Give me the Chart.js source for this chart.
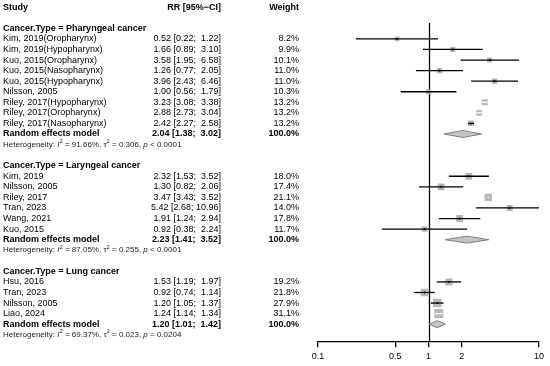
<!DOCTYPE html>
<html><head><meta charset="utf-8">
<script src="https://cdn.jsdelivr.net/npm/chart.js@4"></script>
<style>html,body{margin:0;padding:0;background:#fff}#wrap{width:550px;height:366px;position:relative}</style>
</head><body><div id="wrap"><canvas id="c" width="550" height="366"></canvas></div>
<script>
// ---------------- data ----------------
const groupNames = ["Pharyngeal cancer", "Laryngeal cancer", "Lung cancer"];
const studyLabels = [
  "Kim, 2019(Oropharynx)", "Kim, 2019(Hypopharynx)", "Kuo, 2015(Oropharynx)", "Kuo, 2015(Nasopharynx)",
  "Kuo, 2015(Hypopharynx)", "Nilsson, 2005", "Riley, 2017(Hypopharynx)", "Riley, 2017(Oropharynx)",
  "Riley, 2017(Nasopharynx)",
  "Kim, 2019", "Nilsson, 2005", "Riley, 2017", "Tran, 2023", "Wang, 2021", "Kuo, 2015",
  "Hsu, 2016", "Tran, 2023", "Nilsson, 2005", "Liao, 2024"
];
const studyGroup = [0,0,0,0,0,0,0,0,0, 1,1,1,1,1,1, 2,2,2,2];
const rr     = [0.52, 1.66, 3.58, 1.26, 3.96, 1.00, 3.23, 2.88, 2.42, 2.32, 1.30, 3.47, 5.42, 1.91, 0.92, 1.53, 0.92, 1.20, 1.24];
const ciLow  = [0.22, 0.89, 1.95, 0.77, 2.43, 0.56, 3.08, 2.73, 2.27, 1.53, 0.82, 3.43, 2.68, 1.24, 0.38, 1.19, 0.74, 1.05, 1.14];
const ciHigh = [1.22, 3.10, 6.58, 2.05, 6.46, 1.79, 3.38, 3.04, 2.58, 3.52, 2.06, 3.52, 10.96, 2.94, 2.24, 1.97, 1.14, 1.37, 1.34];
const weights = [8.2, 9.9, 10.1, 11.0, 11.0, 10.3, 13.2, 13.2, 13.2, 18.0, 17.4, 21.1, 14.0, 17.8, 11.7, 19.2, 21.8, 27.9, 31.1];
const pooledRR   = [2.04, 2.23, 1.20];
const pooledLow  = [1.38, 1.41, 1.01];
const pooledHigh = [3.02, 3.52, 1.42];
const hetI2   = ["91.66%", "87.05%", "69.37%"];
const hetTau2 = ["0.306", "0.255", "0.023"];
const hetP    = ["< 0.0001", "< 0.0001", "= 0.0204"];
const xTicks  = [0.1, 0.5, 1, 2, 10];

// ---------------- row layout ----------------
const headerRow = [], pooledRow = [], hetRow = [], studyRow = [];
(function(){
  let row = 2;
  for (let g = 0; g < groupNames.length; g++) {
    headerRow[g] = row++;
    for (let i = 0; i < studyLabels.length; i++) if (studyGroup[i] === g) studyRow[i] = row++;
    pooledRow[g] = row++;
    hetRow[g] = row++;
    row++;
  }
})();

const FONT = '"Liberation Sans", Arial, sans-serif';
const XMIN = 0.1, XMAX = 10;
const maxW = Math.max(...weights);
const sqSide = weights.map(w => 9 * Math.sqrt(w / maxW));
const f2 = v => v.toFixed(2);
const pad = (s, n) => s.length < n ? ' '.repeat(n - s.length) + s : s;
const ciText = (e, l, h) => f2(e) + ' [' + f2(l) + '; ' + pad(f2(h), 5) + ']';

const forestPlugin = {
  id: 'forest',
  beforeDatasetsDraw(chart) {
    const {ctx, scales: {x, y}, chartArea} = chart;
    ctx.save();
    ctx.strokeStyle = '#000'; ctx.lineWidth = 1.3;
    const px = Math.round(x.getPixelForValue(1)) + 0.5;
    ctx.beginPath(); ctx.moveTo(px, y.getPixelForValue(1.5)); ctx.lineTo(px, chartArea.bottom); ctx.stroke();
    ctx.restore();
  },
  afterDatasetsDraw(chart) {
    const {ctx, scales: {x, y}} = chart;
    ctx.save();
    // CI lines
    for (let i = 0; i < rr.length; i++) {
      const x1 = x.getPixelForValue(Math.max(ciLow[i], XMIN));
      const x2 = x.getPixelForValue(Math.min(ciHigh[i], XMAX));
      const py = y.getPixelForValue(studyRow[i]);
      const inside = (x2 - x1) < sqSide[i];
      ctx.strokeStyle = inside ? '#fff' : '#000';
      ctx.lineWidth = 1.3;
      ctx.beginPath(); ctx.moveTo(x1, py); ctx.lineTo(x2, py); ctx.stroke();
      if (!inside) {
        ctx.beginPath(); ctx.moveTo(x.getPixelForValue(rr[i]), py - 1); ctx.lineTo(x.getPixelForValue(rr[i]), py + 1); ctx.stroke();
      }
    }
    // diamonds
    for (let g = 0; g < pooledRR.length; g++) {
      const py = y.getPixelForValue(pooledRow[g]);
      const h = 3.5;
      ctx.beginPath();
      ctx.moveTo(x.getPixelForValue(pooledLow[g]), py);
      ctx.lineTo(x.getPixelForValue(pooledRR[g]), py - h);
      ctx.lineTo(x.getPixelForValue(pooledHigh[g]), py);
      ctx.lineTo(x.getPixelForValue(pooledRR[g]), py + h);
      ctx.closePath();
      ctx.fillStyle = '#C4C4C4'; ctx.fill();
      ctx.strokeStyle = '#808080'; ctx.lineWidth = 1; ctx.stroke();
    }
    ctx.restore();
  },
  afterDraw(chart) {
    const {ctx, scales: {y}} = chart;
    const reg = '9px ' + FONT, bold = 'bold 9px ' + FONT;
    const xStudy = 3, xCI = 221, xW = 299;
    ctx.save();
    ctx.textBaseline = 'middle';
    ctx.fillStyle = '#000';
    const put = (t, px, row, align, font) => { ctx.font = font; ctx.textAlign = align; ctx.fillText(t, px, y.getPixelForValue(row)); };
    put('Study', xStudy, 0, 'left', bold);
    put('RR [95%\u2212CI]', xCI, 0, 'right', bold);
    put('Weight', xW, 0, 'right', bold);
    for (let g = 0; g < groupNames.length; g++) {
      put('Cancer.Type = ' + groupNames[g], xStudy, headerRow[g], 'left', bold);
      put('Random effects model', xStudy, pooledRow[g], 'left', bold);
      put(ciText(pooledRR[g], pooledLow[g], pooledHigh[g]), xCI, pooledRow[g], 'right', bold);
      put('100.0%', xW, pooledRow[g], 'right', bold);
      // heterogeneity line
      const py = y.getPixelForValue(hetRow[g]);
      const fs = 8, ss = 5.8;
      const parts = [
        ['Heterogeneity: ', fs, '', 0],
        ['I', fs, 'italic ', 0],
        ['2', ss, '', -3],
        [' = ' + hetI2[g] + ', ', fs, '', 0],
        ['\u03c4', fs, '', 0],
        ['2', ss, '', -3],
        [' = ' + hetTau2[g] + ', ', fs, '', 0],
        ['p', fs, 'italic ', 0],
        [' ' + hetP[g], fs, '', 0]
      ];
      let cx = xStudy;
      ctx.textAlign = 'left';
      ctx.fillStyle = '#1a1a1a';
      for (const [t, s, st, dy] of parts) {
        ctx.font = st + s + 'px ' + FONT;
        ctx.fillText(t, cx, py + dy);
        cx += ctx.measureText(t).width;
      }
      ctx.fillStyle = '#000';
    }
    for (let i = 0; i < studyLabels.length; i++) {
      put(studyLabels[i], xStudy, studyRow[i], 'left', reg);
      put(ciText(rr[i], ciLow[i], ciHigh[i]), xCI, studyRow[i], 'right', reg);
      put(weights[i].toFixed(1) + '%', xW, studyRow[i], 'right', reg);
    }
    ctx.restore();
  }
};

new Chart(document.getElementById('c').getContext('2d'), {
  type: 'scatter',
  data: {
    datasets: [{
      data: rr.map((v, i) => ({x: v, y: studyRow[i]})),
      pointStyle: 'rect',
      pointRadius: sqSide.map(s => s / Math.SQRT2),
      pointHoverRadius: sqSide.map(s => s / Math.SQRT2),
      backgroundColor: '#B8B8B8',
      borderColor: '#B8B8B8',
      borderWidth: 0
    }]
  },
  options: {
    responsive: false,
    animation: false,
    events: [],
    plugins: {legend: {display: false}, tooltip: {enabled: false}},
    layout: {autoPadding: false, padding: {left: 318, right: 11, top: 0, bottom: 0}},
    scales: {
      x: {
        type: 'logarithmic', min: XMIN, max: XMAX,
        afterBuildTicks: s => { s.ticks = xTicks.map(v => ({value: v})); },
        ticks: {callback: v => String(v), font: {family: FONT, size: 9}, color: '#000', padding: 4, maxRotation: 0, autoSkip: false},
        grid: {drawOnChartArea: false, drawTicks: true, tickLength: 6, color: '#000', lineWidth: 1.3},
        border: {display: true, color: '#000', width: 1.3}
      },
      y: {type: 'linear', display: false, reverse: true, min: -0.682, max: 31.61}
    }
  },
  plugins: [forestPlugin]
});
</script></body></html>
